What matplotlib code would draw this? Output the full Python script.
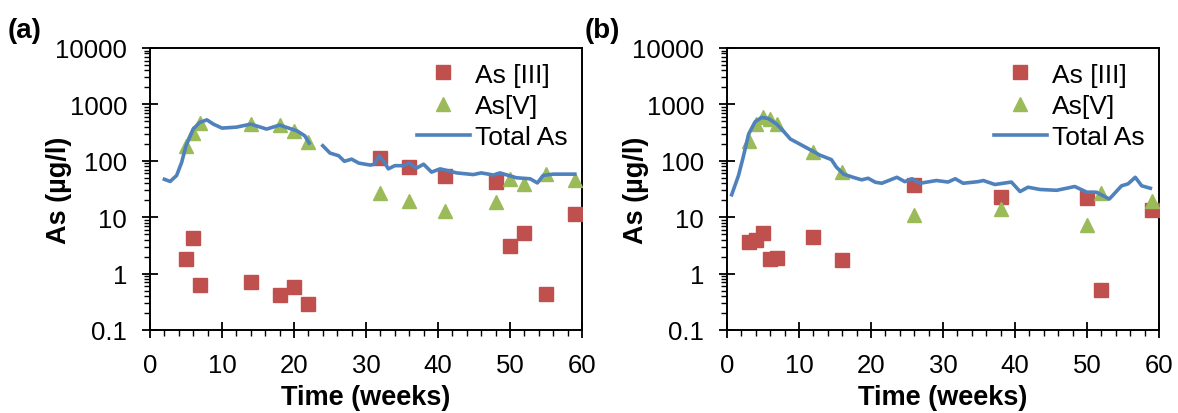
import numpy as np
import matplotlib.pyplot as plt
from matplotlib.ticker import LogLocator, NullFormatter, FixedLocator, MultipleLocator

plt.rcParams['font.family'] = ['Liberation Sans', 'DejaVu Sans']

########################################

# Panel (a) data

a_as3_weeks = [5, 6, 7, 14, 18, 20, 22, 32, 36, 41, 48, 50, 52, 55, 59]
a_as3_vals = [1.8, 4.3, 0.64, 0.70, 0.41, 0.57, 0.29, 110, 78, 54, 42, 3.1, 5.2, 0.44, 11.3]

a_as5_weeks = [5, 6, 7, 14, 18, 20, 22, 32, 36, 41, 48, 50, 52, 55, 59]
a_as5_vals = [185, 310, 465, 450, 430, 340, 212, 27, 19.5, 13, 18.5, 47, 39, 58, 46]

a_tot_weeks = [2.0, 2.8, 3.7, 4.4, 5.0, 6.0, 6.9, 7.9, 8.8, 10.0, 12.0, 14.0, 16.2, 18.0, 19.0,
               20.4, 21.5, 22.1, np.nan,
               24.0, 25.0, 26.2, 27.0, 28.0, 29.0, 30.6, 31.2, 31.8, 32.4, 33.1, 34.0, 35.2, 36.0,
               37.0, 38.0, 39.1, 40.3, 42.6, 44.9, 46.0, 47.7, 48.6, 50.9, 52.8, 53.8, 54.6, 56.0,
               57.4, 59.0]
a_tot_vals = [47, 43, 55, 94, 185, 365, 478, 532, 447, 380, 395, 447, 365, 430, 390,
              340, 277, 206, np.nan,
              185, 137, 123, 98, 107, 91, 84, 87, 123, 100, 72, 82, 82, 91,
              74, 87, 63, 72, 61, 57, 61, 56, 61, 50, 48, 40.5, 55, 58,
              58, 58]

# Panel (b) data

b_as3_weeks = [3, 4, 5, 6, 7, 12, 16, 26, 38, 50, 52, 59]
b_as3_vals = [3.6, 3.9, 5.3, 1.85, 1.9, 4.4, 1.75, 37, 22.5, 21.5, 0.51, 13.5]

b_as5_weeks = [3, 4, 5, 6, 7, 12, 16, 26, 38, 50, 52, 59]
b_as5_vals = [225, 450, 600, 550, 450, 145, 64, 11, 14, 7.3, 27, 19]

b_tot_weeks = [0.65, 1.6, 2.3, 3.0, 3.9, 4.8, 5.7, 6.9, 7.8, 8.8, 10.1, 11.8, 12.9, 14.5, 15.2,
               16.2, 17.5, 18.7, 19.6, 20.6, 21.5, 23.6, 24.7, 25.7, 26.8, 29.1, 30.7, 31.7,
               32.8, 34.9, 35.6, 37.2, 39.5, 40.7, 41.8, 43.5, 45.8, 48.3, 50.0, 51.3, 53.1,
               54.8, 55.7, 56.7, 57.6, 58.8]
b_tot_vals = [25, 55, 123, 297, 490, 587, 565, 447, 340, 243, 198, 151, 126, 105, 77,
              58, 51, 46, 49, 41.7, 40, 51, 42.7, 48, 40, 44.7, 42, 48,
              40, 42.7, 44.7, 38, 42, 28.5, 34, 31, 30, 35, 27.7, 27.7, 21,
              36, 39, 51, 36, 32.6]

panels = [("(a)", a_as3_weeks, a_as3_vals, a_as5_weeks, a_as5_vals, a_tot_weeks, a_tot_vals),
          ("(b)", b_as3_weeks, b_as3_vals, b_as5_weeks, b_as5_vals, b_tot_weeks, b_tot_vals)]

red = "#C0504D"
green = "#9BBB59"
blue = "#4F81BD"

########################################

fig = plt.figure(figsize = (11.78, 4.14), dpi = 100)

lefts = [150 / 1178, 727 / 1178]
width = 432 / 1178
bottom = 1 - 331 / 414
height = 282 / 414

for left, (tag, w3, v3, w5, v5, wt, vt) in zip(lefts, panels):
    ax = fig.add_axes([left, bottom, width, height])

    ax.plot(w3, v3, "s", color = red, markersize = 9.5, label = "As [III]", zorder = 3)
    ax.plot(w5, v5, "^", color = green, markersize = 10, label = "As[V]", zorder = 3)
    ax.plot(wt, vt, "-", color = blue, linewidth = 2.6, label = "Total As", zorder = 4)

    ax.set_yscale("log")
    ax.set_ylim(0.1, 10000)
    ax.set_xlim(0, 60)
    ax.xaxis.set_major_locator(FixedLocator([0, 10, 20, 30, 40, 50, 60]))
    ax.xaxis.set_minor_locator(MultipleLocator(2))
    ax.yaxis.set_major_locator(FixedLocator([0.1, 1, 10, 100, 1000, 10000]))
    ax.set_yticklabels(["0.1", "1", "10", "100", "1000", "10000"])
    ax.yaxis.set_minor_locator(LogLocator(base = 10, subs = np.arange(2, 10), numticks = 20))
    ax.yaxis.set_minor_formatter(NullFormatter())

    ax.tick_params(axis = "y", which = "major", direction = "inout", length = 11, width = 1.3,
                   labelsize = 18.5, pad = 11)
    ax.tick_params(axis = "y", which = "minor", direction = "out", length = 4, width = 1.0)
    ax.tick_params(axis = "x", which = "major", direction = "inout", length = 11, width = 1.3,
                   labelsize = 18.5, pad = 11)
    ax.tick_params(axis = "x", which = "minor", direction = "out", length = 4, width = 1.0)
    for side in ["left", "bottom", "right", "top"]:
        ax.spines[side].set_linewidth(1.4)

    ax.set_xlabel("Time (weeks)", fontsize = 19.5, fontweight = "bold")
    ax.xaxis.set_label_coords(0.5, -0.19)
    ax.set_ylabel("As (µg/l)", fontsize = 19.5, fontweight = "bold")
    ax.yaxis.set_label_coords(-0.18, 0.5)

    ax.legend(loc = "upper right", frameon = False, fontsize = 19, handlelength = 2.0,
              handletextpad = 0.2, labelspacing = 0.28, borderaxespad = 0.15,
              bbox_to_anchor = (1.0, 1.0))

    ax.text(-0.33, 1.065, tag, transform = ax.transAxes, fontsize = 20, fontweight = "bold",
            ha = "left", va = "center")

plt.savefig("out.png", dpi = 100)
plt.close()
